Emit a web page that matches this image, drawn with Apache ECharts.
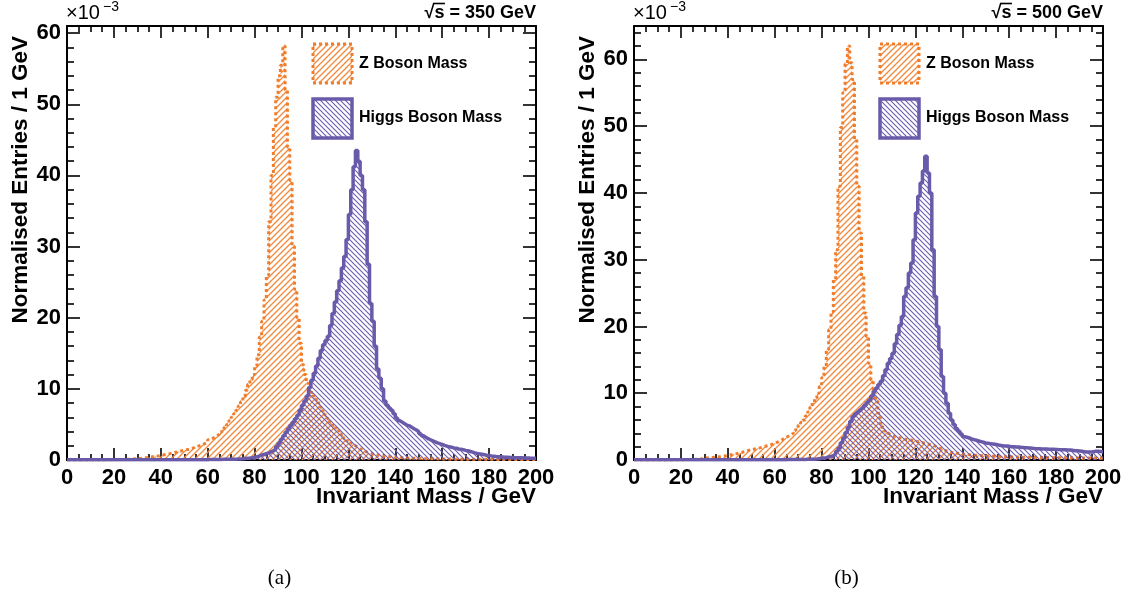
<!DOCTYPE html>
<html>
<head>
<meta charset="utf-8">
<script src="https://cdn.jsdelivr.net/npm/echarts@6/dist/echarts.min.js"></script>
<style>
html,body{margin:0;padding:0;background:#ffffff;}
#chart{width:1131px;height:603px;}
</style>
</head>
<body>
<div id="chart"></div>
<script>
// ---------------- data (1 GeV bins, bin i = [i, i+1) GeV), units of 1e-3 ----------------
const zA = [
0,0,0,0,0,0,0,0,0,0,
0,0,0,0,0,0,0,0.02,0.03,0.04,
0.05,0.05,0.06,0.07,0.08,0.1,0.12,0.15,0.18,0.2,
0.22,0.25,0.3,0.33,0.38,0.42,0.48,0.52,0.58,0.64,
0.7,0.76,0.82,0.9,0.97,1.05,1.12,1.2,1.3,1.38,
1.45,1.52,1.6,1.7,1.85,1.95,2.05,2.2,2.35,2.5,
2.85,3.0,3.2,3.4,3.6,3.9,4.2,4.6,5.0,5.5,
6.0,6.5,7.0,7.6,8.2,8.9,9.8,10.6,11.3,12.0,
13.2,14.8,17.3,19.5,22.5,26.0,33.5,40.0,46.7,51.0,
54.0,55.5,58.2,52.0,44.0,39.3,30.0,24.0,20.0,16.4,
13.4,12.0,10.8,10.1,9.5,9.0,8.5,8.0,7.4,6.9,
6.3,5.8,5.3,4.9,4.5,4.1,3.7,3.3,3.0,2.7,
2.4,2.2,2.0,1.8,1.6,1.4,1.25,1.1,1.0,0.9,
0.82,0.75,0.68,0.62,0.56,0.52,0.48,0.45,0.42,0.4,
0.37,0.34,0.32,0.3,0.29,0.28,0.25,0.24,0.23,0.22,
0.21,0.2,0.19,0.19,0.18,0.17,0.16,0.16,0.15,0.15,
0.14,0.13,0.13,0.12,0.12,0.12,0.11,0.11,0.11,0.1,
0.1,0.1,0.1,0.1,0.1,0.1,0.09,0.09,0.09,0.09,
0.09,0.09,0.09,0.08,0.08,0.08,0.08,0.08,0.08,0.08,
0.08,0.07,0.07,0.07,0.07,0.07,0.07,0.07,0.07,0.07
];
const hA = [
0.02,0.02,0.02,0.02,0.02,0.02,0.02,0.02,0.02,0.02,
0.02,0.02,0.02,0.02,0.02,0.02,0.02,0.02,0.02,0.02,
0.03,0.03,0.03,0.03,0.03,0.03,0.03,0.03,0.03,0.03,
0.03,0.03,0.03,0.03,0.03,0.03,0.03,0.03,0.03,0.03,
0.04,0.04,0.04,0.04,0.04,0.04,0.04,0.04,0.04,0.04,
0.05,0.05,0.05,0.05,0.05,0.05,0.05,0.05,0.05,0.05,
0.06,0.06,0.07,0.07,0.08,0.08,0.09,0.09,0.1,0.1,
0.11,0.12,0.13,0.15,0.17,0.2,0.23,0.27,0.32,0.38,
0.45,0.55,0.7,0.8,0.9,1.0,1.15,1.3,1.5,1.9,
2.4,2.9,3.4,3.9,4.4,4.9,5.3,5.8,6.3,7.0,
7.7,8.3,9.0,10.2,11.2,12.2,13.2,14.3,15.4,16.2,
16.8,17.4,18.9,20.6,22.2,23.8,25.2,27.0,28.6,31.0,
34.5,38.0,41.2,43.5,42.0,40.0,38.0,33.5,27.5,22.0,
19.5,16.0,12.8,11.5,10.0,8.3,7.7,7.3,7.0,6.5,
5.9,5.5,5.3,5.1,4.9,4.8,4.6,4.4,4.2,4.0,
3.7,3.4,3.2,3.0,2.85,2.7,2.55,2.4,2.3,2.2,
2.05,1.95,1.85,1.8,1.7,1.65,1.55,1.5,1.45,1.35,
1.3,1.2,1.1,1.0,0.92,0.86,0.8,0.74,0.68,0.63,
0.58,0.54,0.5,0.47,0.44,0.42,0.4,0.38,0.36,0.35,
0.33,0.32,0.31,0.3,0.29,0.28,0.27,0.26,0.25,0.25
];
const zB = [
0,0,0,0,0,0,0,0,0,0,
0,0,0,0,0,0,0,0.02,0.03,0.04,
0.05,0.05,0.06,0.07,0.08,0.1,0.13,0.16,0.2,0.25,
0.3,0.33,0.37,0.4,0.44,0.48,0.52,0.57,0.62,0.68,
0.75,0.82,0.9,0.97,1.05,1.12,1.25,1.35,1.45,1.52,
1.6,1.68,1.75,1.85,1.95,2.05,2.15,2.25,2.35,2.5,
2.65,2.8,3.0,3.2,3.4,3.6,3.8,4.0,4.4,4.8,
5.2,5.6,6.0,6.6,7.2,7.9,8.6,9.3,10.0,11.0,
12.3,14.0,16.5,19.5,22.2,27.0,31.5,41.0,49.8,55.0,
59.3,62.0,59.5,57.0,48.0,41.0,34.0,27.5,22.0,18.5,
14.5,12.0,10.0,8.8,7.0,5.5,4.5,4.1,3.9,3.7,
3.5,3.4,3.35,3.3,3.2,3.1,3.0,3.0,2.9,2.85,
2.75,2.7,2.6,2.5,2.45,2.35,2.25,2.15,2.0,1.85,
1.7,1.55,1.4,1.25,1.15,1.1,1.05,1.0,0.95,0.9,
0.85,0.82,0.8,0.76,0.73,0.7,0.68,0.66,0.64,0.62,
0.6,0.58,0.57,0.56,0.55,0.53,0.52,0.5,0.49,0.48,
0.47,0.46,0.45,0.44,0.43,0.42,0.41,0.41,0.4,0.4,
0.39,0.38,0.38,0.37,0.37,0.36,0.36,0.35,0.35,0.35,
0.34,0.34,0.33,0.33,0.33,0.32,0.32,0.32,0.31,0.31,
0.31,0.3,0.3,0.3,0.3,0.3,0.3,0.3,0.3,0.3
];
const hB = [
0.02,0.02,0.02,0.02,0.02,0.02,0.02,0.02,0.02,0.02,
0.02,0.02,0.02,0.02,0.02,0.02,0.02,0.02,0.02,0.02,
0.03,0.03,0.03,0.03,0.03,0.03,0.03,0.03,0.03,0.03,
0.03,0.03,0.03,0.03,0.03,0.03,0.03,0.03,0.03,0.03,
0.03,0.03,0.03,0.03,0.03,0.03,0.03,0.03,0.03,0.03,
0.04,0.04,0.04,0.04,0.04,0.04,0.04,0.04,0.04,0.04,
0.04,0.05,0.05,0.05,0.05,0.06,0.06,0.06,0.07,0.07,
0.08,0.08,0.09,0.1,0.1,0.11,0.12,0.15,0.2,0.25,
0.3,0.35,0.45,0.55,0.65,0.9,1.3,1.8,2.6,3.3,
4.1,4.9,5.8,6.5,6.9,7.2,7.5,7.8,8.2,8.6,
9.0,9.6,10.3,10.8,11.3,11.8,12.6,13.5,14.5,15.2,
16.0,17.4,18.8,20.2,21.5,24.5,25.8,28.0,29.5,33.0,
37.0,39.5,41.5,43.3,45.5,43.0,40.0,31.5,24.5,20.0,
16.5,12.5,10.0,8.5,7.0,6.0,5.3,4.7,4.3,3.9,
3.5,3.4,3.3,3.15,3.05,2.95,2.85,2.75,2.65,2.55,
2.5,2.45,2.4,2.35,2.3,2.2,2.15,2.1,2.08,2.05,
2.0,2.0,1.95,1.95,1.9,1.88,1.85,1.82,1.8,1.75,
1.72,1.7,1.68,1.66,1.65,1.64,1.62,1.6,1.6,1.58,
1.56,1.55,1.53,1.52,1.5,1.5,1.45,1.4,1.38,1.35,
1.3,1.25,1.2,1.18,1.2,1.25,1.3,1.3,1.28,1.25
];
const seriesNames = ['Z Boson Mass', 'Higgs Boson Mass'];
const energyLabels = ['√s = 350 GeV', '√s = 500 GeV'];
const panelCaptions = ['(a)', '(b)'];
const xTitle = 'Invariant Mass / GeV';
const yTitle = 'Normalised Entries / 1 GeV';
const scaleLabel = ['×10', '−3'];
const xRange = [0, 200];
const yRanges = [[0, 61], [0, 65]];
const panelData = [[zA, hA], [zB, hB]];

// ---------------- styling ----------------
const ORANGE = '#F07D2C';
const ORANGE_HATCH = '#F28A3E';
const PURPLE = '#6A5AAA';
const PURPLE_HATCH = '#6F5FB0';
const FONT = '"Liberation Sans", Arial, Helvetica, sans-serif';
const gridLefts = [67, 634];
const gridTop = 26, gridW = 469, gridH = 434;

// diagonal hatch tile (anti-aliased line, seamless when repeated)
function hatch(color, p, slash, lw) {
  const c = document.createElement('canvas');
  c.width = p; c.height = p;
  const g = c.getContext('2d');
  g.strokeStyle = color;
  g.lineWidth = lw;
  g.lineCap = 'square';
  g.beginPath();
  [-p, 0, p].forEach(k => {
    if (slash) { g.moveTo(k - 1, p + 1); g.lineTo(k + p + 1, -1); }
    else { g.moveTo(k - 1, -1); g.lineTo(k + p + 1, p + 1); }
  });
  g.stroke();
  return { image: c, repeat: 'repeat' };
}
const orangeHatch = hatch(ORANGE_HATCH, 6, true, 1.35);
const purpleHatch = hatch(PURPLE_HATCH, 5, false, 1.15);

function toSteps(arr) {
  const d = arr.map((v, i) => [i, v]);
  d.push([arr.length, arr[arr.length - 1]]);
  return d;
}

// text width helper (for the overline of the square-root sign)
const measureCtx = document.createElement('canvas').getContext('2d');
function textWidth(txt, font) { measureCtx.font = font; return measureCtx.measureText(txt).width; }

const tick = (len) => ({ show: true, inside: true, length: len, lineStyle: { color: '#000', width: 1.6 } });
const minor = (n, len) => ({ show: true, splitNumber: n, length: len, lineStyle: { color: '#000', width: 1.6 } });
const line = { show: true, onZero: false, lineStyle: { color: '#000', width: 2 } };

const grid = [], xAxis = [], yAxis = [], series = [], graphic = [];
for (let p = 0; p < 2; p++) {
  grid.push({ left: gridLefts[p], top: gridTop, width: gridW, height: gridH, containLabel: false, outerBoundsMode: 'none' });
  xAxis.push({
    type: 'value', gridIndex: p, position: 'bottom', min: xRange[0], max: xRange[1], interval: 20,
    axisLine: line, axisTick: tick(12), minorTick: minor(4, 6), splitLine: { show: false },
    axisLabel: { show: true, margin: 7, color: '#000', fontFamily: FONT, fontWeight: 'bold', fontSize: 22 }
  });
  xAxis.push({
    type: 'value', gridIndex: p, position: 'top', min: xRange[0], max: xRange[1], interval: 20,
    axisLine: line, axisTick: tick(12), minorTick: minor(4, 6), splitLine: { show: false },
    axisLabel: { show: false }
  });
  yAxis.push({
    type: 'value', gridIndex: p, position: 'left', min: yRanges[p][0], max: yRanges[p][1], interval: 10,
    axisLine: line, axisTick: tick(13), minorTick: minor(5, 7), splitLine: { show: false },
    axisLabel: { show: true, margin: 6, color: '#000', fontFamily: FONT, fontWeight: 'bold', fontSize: 22,
      formatter: v => (v % 10 === 0 ? String(v) : '') },
    name: yTitle, nameLocation: 'end', nameGap: -10, nameRotate: 90, nameMoveOverlap: false,
    nameTextStyle: { color: '#000', fontFamily: FONT, fontWeight: 'bold', fontSize: 22.5, align: 'right', verticalAlign: 'bottom', padding: [0, 0, 35, 0] }
  });
  yAxis.push({
    type: 'value', gridIndex: p, position: 'right', min: yRanges[p][0], max: yRanges[p][1], interval: 10,
    axisLine: line, axisTick: tick(13), minorTick: minor(5, 7), splitLine: { show: false },
    axisLabel: { show: false }
  });
  const [zData, hData] = panelData[p];
  series.push({
    type: 'line', name: seriesNames[0], xAxisIndex: 2 * p, yAxisIndex: 2 * p, step: 'end', symbol: 'none',
    data: toSteps(zData), silent: true, z: 2,
    lineStyle: { color: ORANGE, width: 3, type: [3, 3], cap: 'butt' },
    areaStyle: { color: orangeHatch, opacity: 1 }
  });
  series.push({
    type: 'line', name: seriesNames[1], xAxisIndex: 2 * p, yAxisIndex: 2 * p, step: 'end', symbol: 'none',
    data: toSteps(hData), silent: true, z: 3,
    lineStyle: { color: PURPLE, width: 3.5 },
    areaStyle: { color: purpleHatch, opacity: 1 }
  });

  const L = gridLefts[p];
  // x axis title (right-aligned under the axis end)
  graphic.push({ type: 'text', x: L + gridW, y: 497, style: { text: xTitle, font: 'bold 22.5px ' + FONT, fill: '#000', align: 'right', verticalAlign: 'middle' } });
  // scale factor text
  graphic.push({ type: 'text', x: L - 1, y: 13, style: { text: scaleLabel[0], font: '20px ' + FONT, fill: '#000', align: 'left', verticalAlign: 'middle' } });
  graphic.push({ type: 'text', x: L + 36, y: 7, style: { text: scaleLabel[1], font: '14px ' + FONT, fill: '#000', align: 'left', verticalAlign: 'middle' } });
  // energy label with overline above the "s" of the root sign
  const eFont = 'bold 18px ' + FONT;
  const eRight = L + gridW;
  graphic.push({ type: 'text', x: eRight, y: 13, style: { text: energyLabels[p], font: eFont, fill: '#000', align: 'right', verticalAlign: 'middle' } });
  const eStart = eRight - textWidth(energyLabels[p], eFont);
  const wRoot = textWidth('√', eFont), wS = textWidth('√s', eFont);
  graphic.push({ type: 'line', shape: { x1: eStart + wRoot - 1.5, y1: 3.5, x2: eStart + wS + 0.5, y2: 3.5 }, style: { stroke: '#000', lineWidth: 1.6 } });
  // legend
  graphic.push({ type: 'rect', shape: { x: L + 246, y: 44, width: 39, height: 39 }, style: { fill: orangeHatch, stroke: ORANGE, lineWidth: 3, lineDash: [3, 3] } });
  graphic.push({ type: 'rect', shape: { x: L + 246, y: 99, width: 39, height: 39 }, style: { fill: purpleHatch, stroke: PURPLE, lineWidth: 3.5 } });
  graphic.push({ type: 'text', x: L + 292, y: 64, style: { text: seriesNames[0], font: 'bold 16px ' + FONT, fill: '#000', align: 'left', verticalAlign: 'middle' } });
  graphic.push({ type: 'text', x: L + 292, y: 118, style: { text: seriesNames[1], font: 'bold 16px ' + FONT, fill: '#000', align: 'left', verticalAlign: 'middle' } });
  // caption
  graphic.push({ type: 'text', x: L + gridW / 2 - 22, y: 578, style: { text: panelCaptions[p], font: '21px "Liberation Serif", "Times New Roman", serif', fill: '#000', align: 'center', verticalAlign: 'middle' } });
}

const chart = echarts.init(document.getElementById('chart'), null, { renderer: 'canvas' });
chart.setOption({
  backgroundColor: '#ffffff',
  animation: false,
  grid, xAxis, yAxis, series, graphic
});
</script>
</body>
</html>
